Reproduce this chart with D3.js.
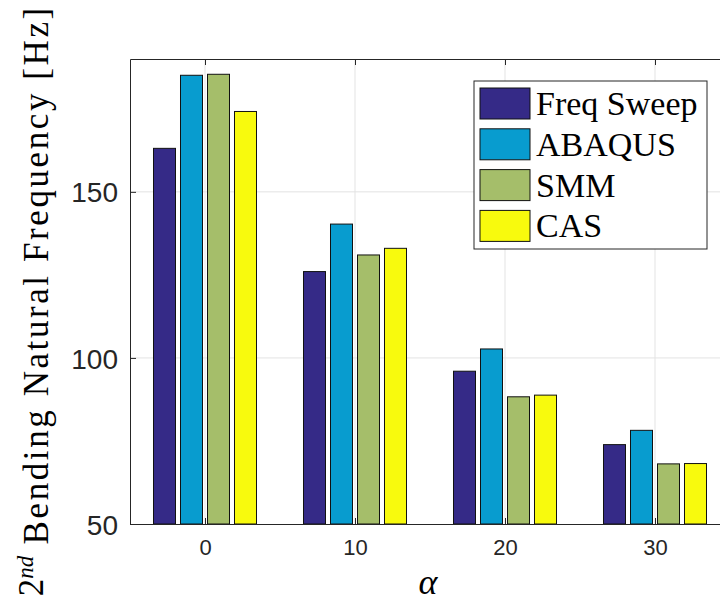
<!DOCTYPE html>
<html>
<head>
<meta charset="utf-8">
<script src="https://cdn.jsdelivr.net/npm/d3@7"></script>
<style>
  body { margin: 0; background: #fff; }
  svg { display: block; }
</style>
</head>
<body>
<svg id="chart" width="720" height="607"></svg>
<script>
// data
const categories = [0, 10, 20, 30];
const seriesNames = ["Freq Sweep", "ABAQUS", "SMM", "CAS"];
const freqSweep = [163.1, 126.0, 96.0, 73.9];
const abaqus = [185.1, 140.3, 102.7, 78.2];
const smm = [185.4, 131.0, 88.3, 68.1];
const cas = [174.2, 133.0, 88.8, 68.2];
const yTicks = [50, 100, 150];

const seriesValues = [freqSweep, abaqus, smm, cas];
const color = d3.scaleOrdinal()
  .domain(seriesNames)
  .range(["#352a87", "#089ccf", "#a5be6a", "#f8fa0d"]);

const plot = { left: 130, right: 730, top: 59, bottom: 524 };
const axisColor = "#262626";

const svg = d3.select("#chart");

const xScale = d3.scaleLinear().domain([-5, 35]).range([plot.left, plot.right]);
const yScale = d3.scaleLinear().domain([50, 190]).range([plot.bottom, plot.top]);
const inner = d3.scaleBand()
  .domain(seriesNames)
  .range([-54, 54])
  .paddingInner(0.185)
  .paddingOuter(0.0925);

// grid
const grid = svg.append("g").attr("stroke", "#e3e3e3").attr("stroke-width", 1);
grid.selectAll(".vg").data(categories).join("line")
  .attr("x1", d => xScale(d)).attr("x2", d => xScale(d))
  .attr("y1", plot.top).attr("y2", plot.bottom);
grid.selectAll(".hg").data(yTicks.slice(1)).join("line")
  .attr("x1", plot.left).attr("x2", plot.right)
  .attr("y1", d => yScale(d)).attr("y2", d => yScale(d));

// bars
const rows = [];
categories.forEach((c, i) => {
  seriesNames.forEach((s, j) => rows.push({ cat: c, name: s, value: seriesValues[j][i] }));
});

svg.append("g").selectAll("rect").data(rows).join("rect")
  .attr("x", d => xScale(d.cat) + inner(d.name))
  .attr("width", inner.bandwidth())
  .attr("y", d => yScale(d.value))
  .attr("height", d => yScale(50) - yScale(d.value))
  .attr("fill", d => color(d.name))
  .attr("stroke", "#111")
  .attr("stroke-width", 1);

// axes (box, inward ticks)
const xAxisB = svg.append("g")
  .attr("transform", `translate(0,${plot.bottom})`)
  .call(d3.axisBottom(xScale).tickValues(categories).tickSizeInner(-6).tickSizeOuter(0).tickPadding(15));
const xAxisT = svg.append("g")
  .attr("transform", `translate(0,${plot.top})`)
  .call(d3.axisTop(xScale).tickValues(categories).tickSizeInner(-6).tickSizeOuter(0).tickFormat(""));
const yAxisL = svg.append("g")
  .attr("transform", `translate(${plot.left},0)`)
  .call(d3.axisLeft(yScale).tickValues(yTicks).tickSizeInner(-6).tickSizeOuter(0).tickPadding(12));

[xAxisB, xAxisT, yAxisL].forEach(a => {
  a.select(".domain").attr("stroke", axisColor);
  a.selectAll(".tick line").attr("stroke", axisColor);
  a.selectAll("text")
    .attr("fill", axisColor)
    .style("font-family", "'Liberation Sans', Arial, sans-serif");
});
xAxisB.selectAll("text").style("font-size", "22px");
yAxisL.selectAll("text").style("font-size", "28px").attr("dy", "0.36em");

// legend
const legend = svg.append("g").attr("transform", "translate(474,81)");
legend.append("rect")
  .attr("width", 233).attr("height", 168)
  .attr("fill", "#fff").attr("stroke", axisColor).attr("stroke-width", 1);
const items = legend.selectAll(".item").data(seriesNames).join("g")
  .attr("transform", (d, i) => `translate(6,${7 + i * 40.8})`);
items.append("rect")
  .attr("width", 50).attr("height", 31)
  .attr("fill", d => color(d)).attr("stroke", "#111");
items.append("text")
  .attr("x", 56).attr("y", 27)
  .text(d => d)
  .style("font-family", "'Liberation Serif', 'Times New Roman', serif")
  .style("font-size", "34px")
  .attr("fill", "#000");

// axis labels
svg.append("text")
  .attr("x", 428).attr("y", 594)
  .attr("text-anchor", "middle")
  .style("font-family", "'Liberation Serif', serif")
  .style("font-style", "italic")
  .style("font-size", "36px")
  .text("α");

const yLabel = svg.append("text")
  .attr("transform", "translate(43,302) rotate(-90)")
  .attr("text-anchor", "middle")
  .style("font-family", "'Liberation Serif', serif")
  .style("font-size", "35px")
  .attr("fill", "#000");
yLabel.append("tspan").text("2");
yLabel.append("tspan").text("nd")
  .attr("dy", "-0.45em").style("font-size", "23px").style("font-style", "italic");
yLabel.append("tspan").text(" Bending Natural Frequency [Hz]")
  .attr("dy", "0.45em").attr("textLength", 548).attr("lengthAdjust", "spacing");
</script>
</body>
</html>
